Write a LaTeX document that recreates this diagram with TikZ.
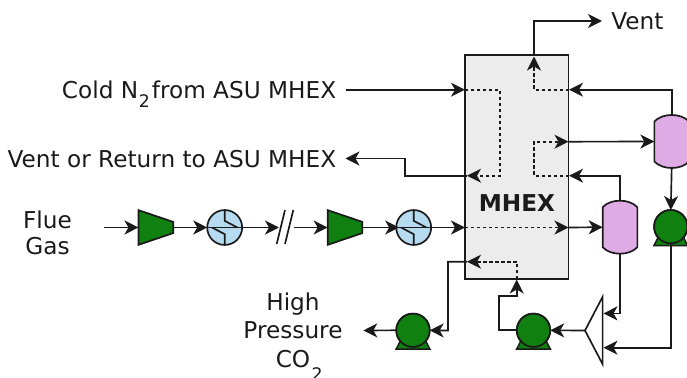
\documentclass[tikz,border=0pt]{standalone}
\usepackage{fontspec}
\setmainfont{DejaVu Sans}
\usetikzlibrary{arrows.meta}
\definecolor{inkdark}{HTML}{1A1A1A}
\definecolor{unitgreen}{HTML}{108010}
\definecolor{vesselpink}{HTML}{DFABE5}
\definecolor{hxblue}{HTML}{B6DAF0}
\definecolor{mhexgrey}{HTML}{ECECEC}
\newcommand{\subtwo}[1]{\raisebox{#1}{\fontsize{13}{13}\selectfont 2}}
\tikzset{
	pipe/.style={draw=inkdark,line width=1.25pt},
	flow/.style={pipe,-{Stealth[length=10.5pt,width=10.5pt,inset=3pt]}},
	inner flow/.style={flow,dash pattern=on 2.4pt off 2.1pt},
	label text/.style={text=inkdark,inner sep=6.75pt,font=\fontsize{17.4}{21.75}\selectfont},
	slot/.style={inner sep=0pt,outer sep=0pt,minimum width=#1},
	pump/.style={circle,draw=inkdark,line width=1.3pt,fill=unitgreen,inner sep=0pt,outer sep=0pt,minimum size=25pt},
	hx/.style={circle,draw=inkdark,line width=1.25pt,fill=hxblue,inner sep=0pt,outer sep=0pt,minimum size=26.2pt},
}
\begin{document}
\begin{tikzpicture}[x=0.75pt,y=-0.75pt]
	\clip (0,0) rectangle (687,378);

	% main exchanger
	\node[draw=inkdark,line width=1.25pt,fill=mhexgrey,inner sep=0pt,outer sep=0pt,minimum width=77.6pt,minimum height=168pt] (mhex) at (516.8,167) {};
	\node[text=inkdark,font=\fontsize{17.4}{20}\selectfont\bfseries] (mhexname) at (517,203) {MHEX};

	% labels
	\node[label text,anchor=base east] (coldnitro) at (345.5,98.5) {Cold N\kern0.5pt\subtwo{-6.5pt}\kern1.5pt from ASU MHEX};
	\node[label text,anchor=east] (ventreturn) at (345.5,159.5) {Vent or Return to ASU MHEX};
	\node[label text,anchor=west] (vent) at (602,21) {Vent};
	\node[label text,align=center,font=\fontsize{17.4}{19.5}\selectfont] (fluegas) at (47.5,233) {Flue\\Gas};
	\node[label text,align=center,anchor=base] (hpco) at (293,368) {High\\Pressure\\CO\rlap{\kern1pt\subtwo{-9.5pt}}};

	% units
	\node[slot=26pt,minimum height=26pt] (compa) at (155.8,227.5) {};
	\node[slot=26pt,minimum height=26pt] (compb) at (345,227.5) {};
	\foreach \c in {compa,compb} {
		\draw[draw=inkdark,line width=1.3pt,fill=unitgreen] (\c.north west) -- ([yshift=-8.8pt]\c.north east) -- ([yshift=8.8pt]\c.south east) -- (\c.south west) -- cycle;
	}
	\node[hx] (hxa) at (224.7,227.5) {};
	\node[hx] (hxb) at (413.7,227.5) {};
	\foreach \h in {hxa,hxb} {
		\draw[pipe] (\h.west) -- (\h.east);
		\draw[pipe] (\h.north) -- ([yshift=5pt]\h.center) -- ([xshift=9.5pt]\h.center);
		\draw[pipe] (\h.south) -- ([yshift=-5pt]\h.center) -- ([xshift=-9.5pt]\h.center);
	}
	\node[slot=26pt,minimum height=40pt] (vesa) at (671.7,141.5) {};
	\node[slot=26pt,minimum height=40pt] (vesb) at (620,227.2) {};
	\foreach \v in {vesa,vesb} {
		\draw[draw=inkdark,line width=1.25pt,fill=vesselpink] ([yshift=-5pt]\v.north west) .. controls +(8,-8.7) and +(-8,-8.7) .. ([yshift=-5pt]\v.north east) -- ([yshift=5pt]\v.south east) .. controls +(-8,8.7) and +(8,8.7) .. ([yshift=5pt]\v.south west) -- cycle;
	}
	\node[pump] (pumpa) at (413,330.3) {};
	\node[pump] (pumpb) at (533.5,330.3) {};
	\node[pump] (pumpc) at (670.8,226.7) {};
	\foreach \p in {pumpa,pumpb,pumpc} {
		\draw[draw=inkdark,line width=1.1pt,fill=unitgreen] ([xshift=-8.5pt,yshift=-6pt]\p.center) -- ([xshift=-12.7pt,yshift=-14.2pt]\p.center) -- ([xshift=12.7pt,yshift=-14.2pt]\p.center) -- ([xshift=8.5pt,yshift=-6pt]\p.center) -- cycle;
		\draw[draw=inkdark,line width=1.3pt,fill=unitgreen] (\p) circle (12.5pt);
	}
	\node[slot=13.2pt,minimum height=50.5pt] (split) at (593.8,330.5) {};
	\draw[pipe] (split.west) -- (split.north east) -- (split.south east) -- cycle;

	% break in the line
	\coordinate (breakin) at (279,227.5);
	\coordinate (breakout) at (294,227.5);
	\draw[pipe] (285,210) -- (276.7,244);
	\draw[pipe] (293.3,210) -- (285,244);

	% ports on the exchanger
	\coordinate (porta) at (465,89.7);
	\coordinate (portb) at (467,175.7);
	\coordinate (portc) at (534,55);
	\coordinate (portd) at (569,89.7);
	\coordinate (porte) at (568.5,141.7);
	\coordinate (portf) at (569,175.7);
	\coordinate (portg) at (465,227.5);
	\coordinate (porth) at (568.5,227.5);
	\coordinate (porti) at (467,261.7);
	\coordinate (portj) at (516.7,279.5);
	\coordinate (portk) at (534,56.5);
	\coordinate (turn) at (405,158.5);
	\coordinate (splita) at (603.5,313.4);
	\coordinate (splitb) at (603.5,347.7);
	\coordinate (feedstart) at (104,227.5);
	\coordinate (productend) at (363.3,330.5);

	% streams outside
	\draw[flow] (coldnitro.east |- porta) -- (porta);
	\draw[flow] (portb) -| (turn) -- (ventreturn.east |- turn);
	\draw[flow] (portc) |- (vent.west);
	\draw[flow] (vesa.north) |- (portd);
	\draw[flow] (porte) -- (vesa.west);
	\draw[flow] (vesb.north) |- (portf);
	\draw[flow] (feedstart) -- (compa.west);
	\draw[flow] (compa.east) -- (hxa.west);
	\draw[flow] (hxa.east) -- (breakin);
	\draw[flow] (breakout) -- (compb.west);
	\draw[flow,shorten >=-2.2pt] (compb.east) -- (hxb.west);
	\draw[flow] (hxb.east) -- (portg);
	\draw[flow] (porth) -- (vesb.west);
	\draw[flow] (vesa.south) -- (pumpc.north);
	\draw[flow] (vesb.south) |- (splita);
	\draw[flow] (pumpc.south) |- (splitb);
	\draw[flow] (split.west) -- (pumpb.east);
	\draw[flow] (pumpb.west) -- (499.3,330.3) |- (516.7,296) -- (portj);
	\draw[flow] (porti) -| (448,330.5) -- (pumpa.east);
	\draw[flow] (pumpa.west) -- (productend);

	% streams inside
	\draw[inner flow] (porta) -| (500,175.7) -- (portb);
	\draw[inner flow] (portd) -| (portk);
	\draw[inner flow] (portf) -| (534,141.7) -- (porte);
	\draw[inner flow] (portg) -- (porth);
	\draw[inner flow] (portj) |- (porti);
\end{tikzpicture}
\end{document}
